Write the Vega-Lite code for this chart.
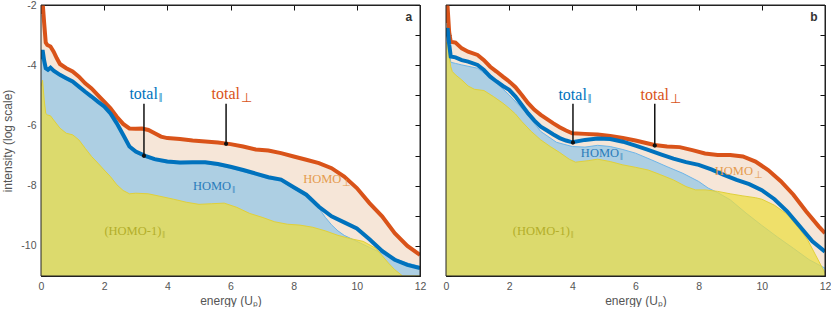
{
  "$schema": "https://vega.github.io/schema/vega-lite/v6.json",
  "autosize": "pad",
  "padding": {"left": 1, "top": 0, "right": 5, "bottom": 0},
  "bounds": "flush",
  "spacing": 26,
  "config": {
    "view": {"stroke": null},
    "axis": {"grid": false, "domain": true, "domainColor": "#222", "domainWidth": 1, "zindex": 2, "tickColor": "#111", "tickWidth": 1, "tickSize": -5, "labelFont": "Liberation Sans", "labelFontSize": 10.5, "labelColor": "#555", "titleFont": "Liberation Sans", "titleFontSize": 12, "titleFontWeight": "normal", "titleColor": "#555", "labelOverlap": false, "labelFlush": false}
  },
  "datasets": {
    "a": [
      {"s":"tperp","x":0,"y":-2.3},{"s":"tperp","x":0.05,"y":-1.9},{"s":"tperp","x":0.1,"y":-2.6},{"s":"tperp","x":0.15,"y":-3.25},{"s":"tperp","x":0.2,"y":-3.33},{"s":"tperp","x":0.3,"y":-3.38},{"s":"tperp","x":0.4,"y":-3.55},{"s":"tperp","x":0.5,"y":-3.77},{"s":"tperp","x":0.6,"y":-3.96},{"s":"tperp","x":0.8,"y":-4.1},{"s":"tperp","x":1.0,"y":-4.21},{"s":"tperp","x":1.2,"y":-4.38},{"s":"tperp","x":1.4,"y":-4.6},{"s":"tperp","x":1.6,"y":-4.77},{"s":"tperp","x":1.8,"y":-4.99},{"s":"tperp","x":2.0,"y":-5.21},{"s":"tperp","x":2.2,"y":-5.43},{"s":"tperp","x":2.4,"y":-5.71},{"s":"tperp","x":2.6,"y":-5.95},{"s":"tperp","x":2.8,"y":-6.1},{"s":"tperp","x":3.0,"y":-6.11},{"s":"tperp","x":3.2,"y":-6.1},{"s":"tperp","x":3.4,"y":-6.15},{"s":"tperp","x":3.6,"y":-6.26},{"s":"tperp","x":3.8,"y":-6.37},{"s":"tperp","x":4.0,"y":-6.42},{"s":"tperp","x":4.4,"y":-6.45},{"s":"tperp","x":4.8,"y":-6.5},{"s":"tperp","x":5.2,"y":-6.53},{"s":"tperp","x":5.6,"y":-6.57},{"s":"tperp","x":6.0,"y":-6.62},{"s":"tperp","x":6.4,"y":-6.70},{"s":"tperp","x":6.8,"y":-6.8},{"s":"tperp","x":7.2,"y":-6.83},{"s":"tperp","x":7.6,"y":-6.92},{"s":"tperp","x":8.0,"y":-7.03},{"s":"tperp","x":8.4,"y":-7.14},{"s":"tperp","x":8.8,"y":-7.25},{"s":"tperp","x":9.2,"y":-7.42},{"s":"tperp","x":9.6,"y":-7.7},{"s":"tperp","x":10.0,"y":-8.08},{"s":"tperp","x":10.4,"y":-8.58},{"s":"tperp","x":10.8,"y":-9.02},{"s":"tperp","x":11.2,"y":-9.58},{"s":"tperp","x":11.6,"y":-10.0},{"s":"tperp","x":12,"y":-10.3},
      {"s":"tpar","x":0,"y":-3.8},{"s":"tpar","x":0.05,"y":-3.5},{"s":"tpar","x":0.1,"y":-3.85},{"s":"tpar","x":0.15,"y":-4.1},{"s":"tpar","x":0.22,"y":-4.15},{"s":"tpar","x":0.3,"y":-4.08},{"s":"tpar","x":0.4,"y":-4.18},{"s":"tpar","x":0.6,"y":-4.32},{"s":"tpar","x":0.8,"y":-4.43},{"s":"tpar","x":1.0,"y":-4.54},{"s":"tpar","x":1.2,"y":-4.71},{"s":"tpar","x":1.4,"y":-4.88},{"s":"tpar","x":1.6,"y":-5.04},{"s":"tpar","x":1.8,"y":-5.21},{"s":"tpar","x":2.0,"y":-5.37},{"s":"tpar","x":2.2,"y":-5.6},{"s":"tpar","x":2.4,"y":-5.93},{"s":"tpar","x":2.6,"y":-6.31},{"s":"tpar","x":2.8,"y":-6.7},{"s":"tpar","x":3.0,"y":-6.87},{"s":"tpar","x":3.3,"y":-7.01},{"s":"tpar","x":3.6,"y":-7.12},{"s":"tpar","x":4.0,"y":-7.2},{"s":"tpar","x":4.4,"y":-7.23},{"s":"tpar","x":4.8,"y":-7.22},{"s":"tpar","x":5.2,"y":-7.22},{"s":"tpar","x":5.6,"y":-7.28},{"s":"tpar","x":6.0,"y":-7.37},{"s":"tpar","x":6.4,"y":-7.48},{"s":"tpar","x":6.8,"y":-7.6},{"s":"tpar","x":7.2,"y":-7.72},{"s":"tpar","x":7.6,"y":-7.8},{"s":"tpar","x":8.0,"y":-8.05},{"s":"tpar","x":8.4,"y":-8.3},{"s":"tpar","x":8.8,"y":-8.7},{"s":"tpar","x":9.2,"y":-9.02},{"s":"tpar","x":9.6,"y":-9.22},{"s":"tpar","x":10.0,"y":-9.42},{"s":"tpar","x":10.4,"y":-9.78},{"s":"tpar","x":10.8,"y":-10.17},{"s":"tpar","x":11.2,"y":-10.46},{"s":"tpar","x":11.6,"y":-10.63},{"s":"tpar","x":12,"y":-10.74},
      {"s":"hpar","x":0,"y":-3.85},{"s":"hpar","x":0.05,"y":-3.55},{"s":"hpar","x":0.1,"y":-3.9},{"s":"hpar","x":0.15,"y":-4.15},{"s":"hpar","x":0.22,"y":-4.2},{"s":"hpar","x":0.3,"y":-4.13},{"s":"hpar","x":0.4,"y":-4.23},{"s":"hpar","x":0.6,"y":-4.37},{"s":"hpar","x":0.8,"y":-4.48},{"s":"hpar","x":1.0,"y":-4.59},{"s":"hpar","x":1.2,"y":-4.76},{"s":"hpar","x":1.4,"y":-4.93},{"s":"hpar","x":1.6,"y":-5.09},{"s":"hpar","x":1.8,"y":-5.26},{"s":"hpar","x":2.0,"y":-5.42},{"s":"hpar","x":2.2,"y":-5.65},{"s":"hpar","x":2.4,"y":-5.98},{"s":"hpar","x":2.6,"y":-6.36},{"s":"hpar","x":2.8,"y":-6.75},{"s":"hpar","x":3.0,"y":-6.92},{"s":"hpar","x":3.3,"y":-7.06},{"s":"hpar","x":3.6,"y":-7.17},{"s":"hpar","x":4.0,"y":-7.25},{"s":"hpar","x":4.4,"y":-7.28},{"s":"hpar","x":4.8,"y":-7.27},{"s":"hpar","x":5.2,"y":-7.27},{"s":"hpar","x":5.6,"y":-7.33},{"s":"hpar","x":6.0,"y":-7.42},{"s":"hpar","x":6.4,"y":-7.53},{"s":"hpar","x":6.8,"y":-7.65},{"s":"hpar","x":7.2,"y":-7.77},{"s":"hpar","x":7.6,"y":-7.85},{"s":"hpar","x":8.0,"y":-8.1},{"s":"hpar","x":8.4,"y":-8.35},{"s":"hpar","x":8.8,"y":-8.75},{"s":"hpar","x":9.0,"y":-9.05},{"s":"hpar","x":9.2,"y":-9.3},{"s":"hpar","x":9.4,"y":-9.5},{"s":"hpar","x":9.6,"y":-9.65},{"s":"hpar","x":9.8,"y":-9.75},{"s":"hpar","x":10.0,"y":-9.85},{"s":"hpar","x":10.4,"y":-10.05},{"s":"hpar","x":10.8,"y":-10.25},{"s":"hpar","x":11.2,"y":-10.42},{"s":"hpar","x":11.6,"y":-10.57},{"s":"hpar","x":12,"y":-10.68},
      {"s":"hm1","x":0,"y":-4.7},{"s":"hm1","x":0.05,"y":-4.5},{"s":"hm1","x":0.1,"y":-5.15},{"s":"hm1","x":0.15,"y":-5.6},{"s":"hm1","x":0.2,"y":-5.65},{"s":"hm1","x":0.3,"y":-5.68},{"s":"hm1","x":0.4,"y":-5.82},{"s":"hm1","x":0.6,"y":-6.09},{"s":"hm1","x":0.8,"y":-6.26},{"s":"hm1","x":1.0,"y":-6.31},{"s":"hm1","x":1.2,"y":-6.48},{"s":"hm1","x":1.4,"y":-6.76},{"s":"hm1","x":1.6,"y":-7.03},{"s":"hm1","x":1.8,"y":-7.25},{"s":"hm1","x":2.0,"y":-7.48},{"s":"hm1","x":2.2,"y":-7.7},{"s":"hm1","x":2.4,"y":-7.97},{"s":"hm1","x":2.6,"y":-8.16},{"s":"hm1","x":2.8,"y":-8.27},{"s":"hm1","x":3.0,"y":-8.25},{"s":"hm1","x":3.4,"y":-8.27},{"s":"hm1","x":3.8,"y":-8.36},{"s":"hm1","x":4.2,"y":-8.45},{"s":"hm1","x":4.6,"y":-8.55},{"s":"hm1","x":5.0,"y":-8.62},{"s":"hm1","x":5.4,"y":-8.6},{"s":"hm1","x":5.8,"y":-8.58},{"s":"hm1","x":6.2,"y":-8.72},{"s":"hm1","x":6.6,"y":-8.92},{"s":"hm1","x":7.0,"y":-9.05},{"s":"hm1","x":7.4,"y":-9.2},{"s":"hm1","x":7.8,"y":-9.28},{"s":"hm1","x":8.2,"y":-9.31},{"s":"hm1","x":8.6,"y":-9.38},{"s":"hm1","x":9.0,"y":-9.5},{"s":"hm1","x":9.4,"y":-9.65},{"s":"hm1","x":9.8,"y":-9.76},{"s":"hm1","x":10.2,"y":-9.85},{"s":"hm1","x":10.6,"y":-10.08},{"s":"hm1","x":11.0,"y":-10.57},{"s":"hm1","x":11.2,"y":-10.79},{"s":"hm1","x":11.45,"y":-11},{"s":"hm1","x":12,"y":-11}
    ],
    "b": [
      {"s":"tperp","x":0,"y":-2.6},{"s":"tperp","x":0.04,"y":-1.9},{"s":"tperp","x":0.1,"y":-2.9},{"s":"tperp","x":0.15,"y":-3.22},{"s":"tperp","x":0.3,"y":-3.25},{"s":"tperp","x":0.5,"y":-3.44},{"s":"tperp","x":0.7,"y":-3.55},{"s":"tperp","x":1.0,"y":-3.66},{"s":"tperp","x":1.2,"y":-3.83},{"s":"tperp","x":1.4,"y":-4.05},{"s":"tperp","x":1.6,"y":-4.21},{"s":"tperp","x":1.8,"y":-4.38},{"s":"tperp","x":2.0,"y":-4.54},{"s":"tperp","x":2.2,"y":-4.73},{"s":"tperp","x":2.4,"y":-4.99},{"s":"tperp","x":2.6,"y":-5.26},{"s":"tperp","x":2.8,"y":-5.48},{"s":"tperp","x":3.0,"y":-5.65},{"s":"tperp","x":3.2,"y":-5.79},{"s":"tperp","x":3.4,"y":-5.93},{"s":"tperp","x":3.6,"y":-6.06},{"s":"tperp","x":3.8,"y":-6.17},{"s":"tperp","x":4.0,"y":-6.26},{"s":"tperp","x":4.4,"y":-6.28},{"s":"tperp","x":4.8,"y":-6.3},{"s":"tperp","x":5.2,"y":-6.35},{"s":"tperp","x":5.6,"y":-6.42},{"s":"tperp","x":6.0,"y":-6.5},{"s":"tperp","x":6.4,"y":-6.6},{"s":"tperp","x":6.6,"y":-6.65},{"s":"tperp","x":7.0,"y":-6.7},{"s":"tperp","x":7.4,"y":-6.72},{"s":"tperp","x":7.8,"y":-6.82},{"s":"tperp","x":8.2,"y":-6.93},{"s":"tperp","x":8.6,"y":-6.98},{"s":"tperp","x":9.0,"y":-6.98},{"s":"tperp","x":9.4,"y":-7.03},{"s":"tperp","x":9.8,"y":-7.2},{"s":"tperp","x":10.2,"y":-7.48},{"s":"tperp","x":10.6,"y":-7.85},{"s":"tperp","x":11.0,"y":-8.3},{"s":"tperp","x":11.4,"y":-8.85},{"s":"tperp","x":11.8,"y":-9.35},{"s":"tperp","x":12,"y":-9.58},
      {"s":"tpar","x":0,"y":-3.05},{"s":"tpar","x":0.05,"y":-2.77},{"s":"tpar","x":0.1,"y":-3.3},{"s":"tpar","x":0.15,"y":-3.71},{"s":"tpar","x":0.3,"y":-3.74},{"s":"tpar","x":0.5,"y":-3.83},{"s":"tpar","x":0.7,"y":-3.88},{"s":"tpar","x":1.0,"y":-3.99},{"s":"tpar","x":1.2,"y":-4.16},{"s":"tpar","x":1.4,"y":-4.38},{"s":"tpar","x":1.6,"y":-4.54},{"s":"tpar","x":1.8,"y":-4.69},{"s":"tpar","x":2.0,"y":-4.82},{"s":"tpar","x":2.2,"y":-5.04},{"s":"tpar","x":2.4,"y":-5.32},{"s":"tpar","x":2.6,"y":-5.6},{"s":"tpar","x":2.8,"y":-5.84},{"s":"tpar","x":3.0,"y":-6.04},{"s":"tpar","x":3.2,"y":-6.17},{"s":"tpar","x":3.4,"y":-6.3},{"s":"tpar","x":3.6,"y":-6.42},{"s":"tpar","x":3.8,"y":-6.5},{"s":"tpar","x":4.0,"y":-6.56},{"s":"tpar","x":4.4,"y":-6.48},{"s":"tpar","x":4.8,"y":-6.43},{"s":"tpar","x":5.2,"y":-6.45},{"s":"tpar","x":5.6,"y":-6.54},{"s":"tpar","x":6.0,"y":-6.67},{"s":"tpar","x":6.4,"y":-6.81},{"s":"tpar","x":6.8,"y":-6.96},{"s":"tpar","x":7.2,"y":-7.1},{"s":"tpar","x":7.6,"y":-7.22},{"s":"tpar","x":8.0,"y":-7.31},{"s":"tpar","x":8.4,"y":-7.46},{"s":"tpar","x":8.8,"y":-7.64},{"s":"tpar","x":9.2,"y":-7.81},{"s":"tpar","x":9.6,"y":-7.95},{"s":"tpar","x":10.0,"y":-8.15},{"s":"tpar","x":10.4,"y":-8.45},{"s":"tpar","x":10.8,"y":-8.85},{"s":"tpar","x":11.2,"y":-9.35},{"s":"tpar","x":11.6,"y":-9.85},{"s":"tpar","x":12,"y":-10.19},
      {"s":"hpar","x":0,"y":-3.1},{"s":"hpar","x":0.05,"y":-2.85},{"s":"hpar","x":0.1,"y":-3.4},{"s":"hpar","x":0.15,"y":-3.9},{"s":"hpar","x":0.3,"y":-3.94},{"s":"hpar","x":0.5,"y":-3.99},{"s":"hpar","x":1.0,"y":-4.1},{"s":"hpar","x":1.5,"y":-4.49},{"s":"hpar","x":2.0,"y":-4.99},{"s":"hpar","x":2.5,"y":-5.54},{"s":"hpar","x":3.0,"y":-6.2},{"s":"hpar","x":3.5,"y":-6.56},{"s":"hpar","x":4.0,"y":-6.7},{"s":"hpar","x":4.4,"y":-6.72},{"s":"hpar","x":4.8,"y":-6.66},{"s":"hpar","x":5.2,"y":-6.7},{"s":"hpar","x":5.6,"y":-6.8},{"s":"hpar","x":6.0,"y":-6.92},{"s":"hpar","x":6.5,"y":-7.14},{"s":"hpar","x":7.0,"y":-7.37},{"s":"hpar","x":7.5,"y":-7.59},{"s":"hpar","x":8.0,"y":-7.86},{"s":"hpar","x":8.3,"y":-8.08},{"s":"hpar","x":8.6,"y":-8.23},{"s":"hpar","x":9.0,"y":-8.47},{"s":"hpar","x":9.5,"y":-8.91},{"s":"hpar","x":10.0,"y":-9.32},{"s":"hpar","x":10.5,"y":-9.71},{"s":"hpar","x":11.0,"y":-10.08},{"s":"hpar","x":11.5,"y":-10.46},{"s":"hpar","x":12,"y":-10.74},
      {"s":"hm1","x":0,"y":-3.3},{"s":"hm1","x":0.05,"y":-3.2},{"s":"hm1","x":0.1,"y":-3.7},{"s":"hm1","x":0.15,"y":-4.05},{"s":"hm1","x":0.2,"y":-4.21},{"s":"hm1","x":0.3,"y":-4.32},{"s":"hm1","x":0.5,"y":-4.49},{"s":"hm1","x":0.7,"y":-4.69},{"s":"hm1","x":0.9,"y":-4.8},{"s":"hm1","x":1.2,"y":-4.84},{"s":"hm1","x":1.5,"y":-5.04},{"s":"hm1","x":1.8,"y":-5.26},{"s":"hm1","x":2.0,"y":-5.43},{"s":"hm1","x":2.2,"y":-5.62},{"s":"hm1","x":2.4,"y":-5.87},{"s":"hm1","x":2.7,"y":-6.2},{"s":"hm1","x":3.0,"y":-6.48},{"s":"hm1","x":3.3,"y":-6.7},{"s":"hm1","x":3.6,"y":-6.9},{"s":"hm1","x":3.9,"y":-7.12},{"s":"hm1","x":4.1,"y":-7.22},{"s":"hm1","x":4.5,"y":-7.17},{"s":"hm1","x":4.8,"y":-7.12},{"s":"hm1","x":5.2,"y":-7.2},{"s":"hm1","x":5.6,"y":-7.31},{"s":"hm1","x":6.0,"y":-7.39},{"s":"hm1","x":6.4,"y":-7.48},{"s":"hm1","x":6.8,"y":-7.64},{"s":"hm1","x":7.2,"y":-7.81},{"s":"hm1","x":7.6,"y":-8.03},{"s":"hm1","x":7.9,"y":-8.14},{"s":"hm1","x":8.2,"y":-8.14},{"s":"hm1","x":8.6,"y":-8.19},{"s":"hm1","x":9.0,"y":-8.27},{"s":"hm1","x":9.4,"y":-8.34},{"s":"hm1","x":9.8,"y":-8.4},{"s":"hm1","x":10.0,"y":-8.45},{"s":"hm1","x":10.4,"y":-8.65},{"s":"hm1","x":10.8,"y":-8.95},{"s":"hm1","x":11.0,"y":-9.2},{"s":"hm1","x":11.2,"y":-9.45},{"s":"hm1","x":11.45,"y":-9.8},{"s":"hm1","x":11.7,"y":-10.3},{"s":"hm1","x":12,"y":-10.9}
    ],
    "la": [
      {"k":"tpar","x":3.7,"y":-5.13,"main":"total","sub":"‖"},
      {"k":"tperp","x":6.3,"y":-5.13,"main":"total","sub":"⊥"},
      {"k":"hpar","x":6.02,"y":-8.16,"main":"HOMO","sub":"‖"},
      {"k":"hperp","x":9.51,"y":-7.9,"main":"HOMO","sub":"⊥"},
      {"k":"hm1","x":3.81,"y":-9.63,"main":"(HOMO-1)","sub":"‖"}
    ],
    "lb": [
      {"k":"tpar","x":4.46,"y":-5.15,"main":"total","sub":"‖"},
      {"k":"tperp","x":7.06,"y":-5.15,"main":"total","sub":"⊥"},
      {"k":"hpar","x":5.48,"y":-7.06,"main":"HOMO","sub":"‖"},
      {"k":"hperp","x":9.72,"y":-7.64,"main":"HOMO","sub":"⊥"},
      {"k":"hm1","x":3.92,"y":-9.63,"main":"(HOMO-1)","sub":"‖"}
    ],
    "ka": [
      {"x":3.26,"y":-5.28,"y2":-7.01},
      {"x":5.86,"y":-5.28,"y2":-6.61}
    ],
    "kb": [
      {"x":4.02,"y":-5.28,"y2":-6.57},
      {"x":6.61,"y":-5.28,"y2":-6.67}
    ],
    "pa": [{"x":11.65,"y":-2.39,"t":"a"}],
    "pb": [{"x":11.65,"y":-2.39,"t":"b"}],
    "frame": [{"x0":0,"x1":12,"y0":-11,"y1":-2}]
  },
  "hconcat": [
    {
      "width": 379, "height": 271,
      "resolve": {"axis": {"x": "independent", "y": "independent"}},
      "layer": [
        {"data": {"name": "a"}, "transform": [{"filter": "datum.s == 'tperp'"}],
         "mark": {"type": "area", "color": "#F6E6D8", "clip": true},
         "encoding": {
           "x": {"field": "x", "type": "quantitative", "scale": {"domain": [0, 12], "nice": false},
                 "axis": {"orient": "bottom", "values": [0,2,4,6,8,10,12], "labelPadding": 10, "title": "energy (Uₚ)", "titlePadding": 4}},
           "y": {"field": "y", "type": "quantitative", "scale": {"domain": [-11, -2], "nice": false, "zero": false},
                 "axis": {"orient": "left", "values": [-11,-10,-9,-8,-7,-6,-5,-4,-3,-2], "labelExpr": "datum.value % 2 == 0 ? '' + datum.value : ''", "labelPadding": 10, "title": "intensity (log scale)", "titlePadding": 6}},
           "y2": {"datum": -11}}},
        {"data": {"name": "a"}, "transform": [{"filter": "datum.s == 'hpar'"}],
         "mark": {"type": "area", "color": "#8EC5E8", "clip": true, "line": {"color": "#6DB5E8", "strokeWidth": 1}},
         "encoding": {
           "x": {"field": "x", "type": "quantitative", "axis": {"orient": "top", "values": [0,2,4,6,8,10,12], "labels": false, "title": null}},
           "y": {"field": "y", "type": "quantitative", "axis": {"orient": "right", "values": [-11,-10,-9,-8,-7,-6,-5,-4,-3,-2], "labels": false, "title": null}},
           "y2": {"datum": -11}}},
        {"data": {"name": "a"}, "transform": [{"filter": "datum.s == 'hm1'"}],
         "mark": {"type": "area", "color": "#ECDD44", "opacity": 0.74, "clip": true, "line": {"color": "#E0D03A", "strokeWidth": 1}},
         "encoding": {"x": {"field": "x", "type": "quantitative", "axis": null}, "y": {"field": "y", "type": "quantitative", "axis": null}, "y2": {"datum": -11}}},
        {"data": {"name": "a"}, "transform": [{"filter": "datum.s == 'tperp'"}],
         "mark": {"type": "line", "color": "#D95319", "strokeWidth": 4, "clip": true},
         "encoding": {"x": {"field": "x", "type": "quantitative", "axis": null}, "y": {"field": "y", "type": "quantitative", "axis": null}}},
        {"data": {"name": "a"}, "transform": [{"filter": "datum.s == 'tpar'"}],
         "mark": {"type": "line", "color": "#0072BD", "strokeWidth": 4, "clip": true},
         "encoding": {"x": {"field": "x", "type": "quantitative", "axis": null}, "y": {"field": "y", "type": "quantitative", "axis": null}}},
        {"data": {"name": "ka"},
         "mark": {"type": "rule", "color": "#111", "strokeWidth": 1.5},
         "encoding": {"x": {"field": "x", "type": "quantitative", "axis": null}, "y": {"field": "y", "type": "quantitative", "axis": null}, "y2": {"field": "y2"}}},
        {"data": {"name": "ka"},
         "mark": {"type": "point", "filled": true, "color": "#111", "size": 18, "opacity": 1},
         "encoding": {"x": {"field": "x", "type": "quantitative", "axis": null}, "y": {"field": "y2", "type": "quantitative", "axis": null}}},
        {"data": {"name": "la"}, "transform": [{"filter": "datum.k == 'tpar' || datum.k == 'tperp'"}],
         "mark": {"type": "text", "align": "right", "baseline": "alphabetic", "font": "Liberation Serif", "fontSize": 16},
         "encoding": {"x": {"field": "x", "type": "quantitative", "axis": null}, "y": {"field": "y", "type": "quantitative", "axis": null}, "text": {"field": "main"},
           "color": {"field": "k", "type": "nominal", "legend": null, "scale": {"domain": ["tpar","tperp","hpar","hperp","hm1"], "range": ["#0072BD","#D95319","#2A7CBA","#E59B4E","#B3AE2A"]}}}},
        {"data": {"name": "la"}, "transform": [{"filter": "datum.k == 'tpar' || datum.k == 'tperp'"}],
         "mark": {"type": "text", "align": "left", "baseline": "alphabetic", "font": "Liberation Serif", "fontSize": 13, "dx": 1, "dy": 3},
         "encoding": {"x": {"field": "x", "type": "quantitative", "axis": null}, "y": {"field": "y", "type": "quantitative", "axis": null}, "text": {"field": "sub"},
           "color": {"field": "k", "type": "nominal", "legend": null}}},
        {"data": {"name": "la"}, "transform": [{"filter": "datum.k != 'tpar' && datum.k != 'tperp'"}],
         "mark": {"type": "text", "align": "right", "baseline": "alphabetic", "font": "Liberation Serif", "fontSize": 12.5},
         "encoding": {"x": {"field": "x", "type": "quantitative", "axis": null}, "y": {"field": "y", "type": "quantitative", "axis": null}, "text": {"field": "main"},
           "color": {"field": "k", "type": "nominal", "legend": null}}},
        {"data": {"name": "la"}, "transform": [{"filter": "datum.k != 'tpar' && datum.k != 'tperp'"}],
         "mark": {"type": "text", "align": "left", "baseline": "alphabetic", "font": "Liberation Serif", "fontSize": 10, "dx": 1, "dy": 3},
         "encoding": {"x": {"field": "x", "type": "quantitative", "axis": null}, "y": {"field": "y", "type": "quantitative", "axis": null}, "text": {"field": "sub"},
           "color": {"field": "k", "type": "nominal", "legend": null}}},
        {"data": {"name": "pa"},
         "mark": {"type": "text", "align": "center", "baseline": "middle", "font": "Liberation Sans", "fontSize": 12, "fontWeight": "bold", "color": "#333"},
         "encoding": {"x": {"field": "x", "type": "quantitative", "axis": null}, "y": {"field": "y", "type": "quantitative", "axis": null}, "text": {"field": "t"}}},
        {"data": {"name": "frame"},
         "mark": {"type": "rect", "fill": null, "fillOpacity": 0, "stroke": "#222", "strokeWidth": 1},
         "encoding": {"x": {"field": "x0", "type": "quantitative", "axis": null}, "x2": {"field": "x1"}, "y": {"field": "y0", "type": "quantitative", "axis": null}, "y2": {"field": "y1"}}}
      ]
    },
    {
      "width": 379, "height": 271,
      "resolve": {"axis": {"x": "independent", "y": "independent"}},
      "layer": [
        {"data": {"name": "b"}, "transform": [{"filter": "datum.s == 'tperp'"}],
         "mark": {"type": "area", "color": "#F6E6D8", "clip": true},
         "encoding": {
           "x": {"field": "x", "type": "quantitative", "scale": {"domain": [0, 12], "nice": false},
                 "axis": {"orient": "bottom", "values": [0,2,4,6,8,10,12], "labelPadding": 10, "title": "energy (Uₚ)", "titlePadding": 4}},
           "y": {"field": "y", "type": "quantitative", "scale": {"domain": [-11, -2], "nice": false, "zero": false},
                 "axis": {"orient": "left", "values": [-11,-10,-9,-8,-7,-6,-5,-4,-3,-2], "labels": false, "title": null}},
           "y2": {"datum": -11}}},
        {"data": {"name": "b"}, "transform": [{"filter": "datum.s == 'hpar'"}],
         "mark": {"type": "area", "color": "#8EC5E8", "clip": true, "line": {"color": "#6DB5E8", "strokeWidth": 1}},
         "encoding": {
           "x": {"field": "x", "type": "quantitative", "axis": {"orient": "top", "values": [0,2,4,6,8,10,12], "labels": false, "title": null}},
           "y": {"field": "y", "type": "quantitative", "axis": {"orient": "right", "values": [-11,-10,-9,-8,-7,-6,-5,-4,-3,-2], "labels": false, "title": null}},
           "y2": {"datum": -11}}},
        {"data": {"name": "b"}, "transform": [{"filter": "datum.s == 'hm1'"}],
         "mark": {"type": "area", "color": "#ECDD44", "opacity": 0.74, "clip": true, "line": {"color": "#E0D03A", "strokeWidth": 1}},
         "encoding": {"x": {"field": "x", "type": "quantitative", "axis": null}, "y": {"field": "y", "type": "quantitative", "axis": null}, "y2": {"datum": -11}}},
        {"data": {"name": "b"}, "transform": [{"filter": "datum.s == 'tperp'"}],
         "mark": {"type": "line", "color": "#D95319", "strokeWidth": 4, "clip": true},
         "encoding": {"x": {"field": "x", "type": "quantitative", "axis": null}, "y": {"field": "y", "type": "quantitative", "axis": null}}},
        {"data": {"name": "b"}, "transform": [{"filter": "datum.s == 'tpar'"}],
         "mark": {"type": "line", "color": "#0072BD", "strokeWidth": 4, "clip": true},
         "encoding": {"x": {"field": "x", "type": "quantitative", "axis": null}, "y": {"field": "y", "type": "quantitative", "axis": null}}},
        {"data": {"name": "kb"},
         "mark": {"type": "rule", "color": "#111", "strokeWidth": 1.5},
         "encoding": {"x": {"field": "x", "type": "quantitative", "axis": null}, "y": {"field": "y", "type": "quantitative", "axis": null}, "y2": {"field": "y2"}}},
        {"data": {"name": "kb"},
         "mark": {"type": "point", "filled": true, "color": "#111", "size": 18, "opacity": 1},
         "encoding": {"x": {"field": "x", "type": "quantitative", "axis": null}, "y": {"field": "y2", "type": "quantitative", "axis": null}}},
        {"data": {"name": "lb"}, "transform": [{"filter": "datum.k == 'tpar' || datum.k == 'tperp'"}],
         "mark": {"type": "text", "align": "right", "baseline": "alphabetic", "font": "Liberation Serif", "fontSize": 16},
         "encoding": {"x": {"field": "x", "type": "quantitative", "axis": null}, "y": {"field": "y", "type": "quantitative", "axis": null}, "text": {"field": "main"},
           "color": {"field": "k", "type": "nominal", "legend": null, "scale": {"domain": ["tpar","tperp","hpar","hperp","hm1"], "range": ["#0072BD","#D95319","#2A7CBA","#E59B4E","#B3AE2A"]}}}},
        {"data": {"name": "lb"}, "transform": [{"filter": "datum.k == 'tpar' || datum.k == 'tperp'"}],
         "mark": {"type": "text", "align": "left", "baseline": "alphabetic", "font": "Liberation Serif", "fontSize": 13, "dx": 1, "dy": 3},
         "encoding": {"x": {"field": "x", "type": "quantitative", "axis": null}, "y": {"field": "y", "type": "quantitative", "axis": null}, "text": {"field": "sub"},
           "color": {"field": "k", "type": "nominal", "legend": null}}},
        {"data": {"name": "lb"}, "transform": [{"filter": "datum.k != 'tpar' && datum.k != 'tperp'"}],
         "mark": {"type": "text", "align": "right", "baseline": "alphabetic", "font": "Liberation Serif", "fontSize": 12.5},
         "encoding": {"x": {"field": "x", "type": "quantitative", "axis": null}, "y": {"field": "y", "type": "quantitative", "axis": null}, "text": {"field": "main"},
           "color": {"field": "k", "type": "nominal", "legend": null}}},
        {"data": {"name": "lb"}, "transform": [{"filter": "datum.k != 'tpar' && datum.k != 'tperp'"}],
         "mark": {"type": "text", "align": "left", "baseline": "alphabetic", "font": "Liberation Serif", "fontSize": 10, "dx": 1, "dy": 3},
         "encoding": {"x": {"field": "x", "type": "quantitative", "axis": null}, "y": {"field": "y", "type": "quantitative", "axis": null}, "text": {"field": "sub"},
           "color": {"field": "k", "type": "nominal", "legend": null}}},
        {"data": {"name": "pb"},
         "mark": {"type": "text", "align": "center", "baseline": "middle", "font": "Liberation Sans", "fontSize": 12, "fontWeight": "bold", "color": "#333"},
         "encoding": {"x": {"field": "x", "type": "quantitative", "axis": null}, "y": {"field": "y", "type": "quantitative", "axis": null}, "text": {"field": "t"}}},
        {"data": {"name": "frame"},
         "mark": {"type": "rect", "fill": null, "fillOpacity": 0, "stroke": "#222", "strokeWidth": 1},
         "encoding": {"x": {"field": "x0", "type": "quantitative", "axis": null}, "x2": {"field": "x1"}, "y": {"field": "y0", "type": "quantitative", "axis": null}, "y2": {"field": "y1"}}}
      ]
    }
  ]
}
